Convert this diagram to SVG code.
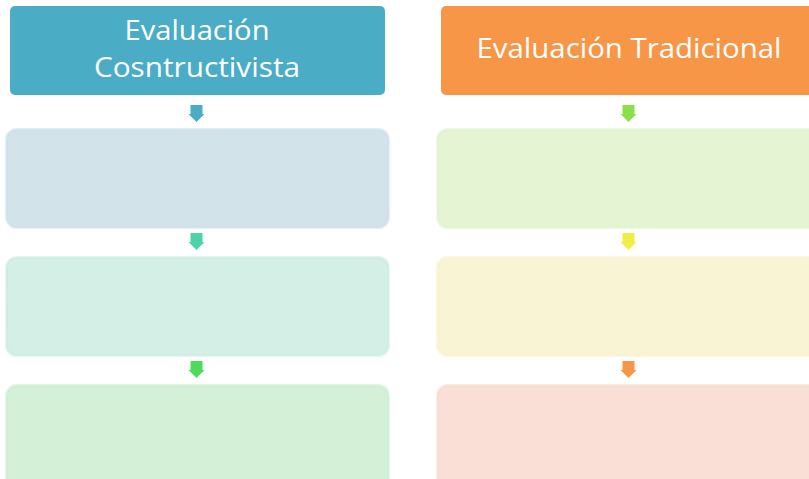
<svg xmlns="http://www.w3.org/2000/svg" width="809" height="479" viewBox="0 0 809 479">
<defs>
<style>
.hdr{font-family:"Open Sans","Liberation Sans",sans-serif;font-size:27px;fill:#ffffff;text-anchor:middle}
.box{stroke-width:3;stroke-opacity:0.5}
</style>
<path id="arr" d="M-6,0 H6 V9 H8 L0,17 L-8,9 H-6 Z"/>
</defs>
<rect width="809" height="479" fill="#ffffff"/>
<g id="hdr-left">
<rect x="10" y="6" width="375" height="89" rx="5" fill="#4BACC6"/>
<text class="hdr" x="197" y="40" textLength="145" lengthAdjust="spacingAndGlyphs">Evaluación</text>
<text class="hdr" x="197" y="77" textLength="206" lengthAdjust="spacingAndGlyphs">Cosntructivista</text>
</g>
<g id="hdr-right">
<rect x="441" y="6" width="380" height="89" rx="5" fill="#F79646"/>
<text class="hdr" x="629" y="58" textLength="305" lengthAdjust="spacingAndGlyphs">Evaluación Tradicional</text>
</g>
<g id="left-1"><rect class="box" x="6.5" y="129.5" width="382" height="98" rx="10" fill="#D3E3EA" stroke="#C8DCE6"/></g>
<g id="left-2"><rect class="box" x="6.5" y="257.5" width="382" height="98" rx="10" fill="#D4EFE5" stroke="#C6EADD"/></g>
<g id="left-3"><rect class="box" x="6.5" y="385.5" width="382" height="110" rx="10" fill="#D4F0D7" stroke="#C8EBCB"/></g>
<g id="right-1"><rect class="box" x="437.5" y="129.5" width="390" height="98" rx="10" fill="#E5F5D3" stroke="#DCF2C8"/></g>
<g id="right-2"><rect class="box" x="437.5" y="257.5" width="390" height="98" rx="10" fill="#F8F4D4" stroke="#F6F1C9"/></g>
<g id="right-3"><rect class="box" x="437.5" y="385.5" width="390" height="110" rx="10" fill="#F9DFD5" stroke="#F8D8CC"/></g>
<g id="connectors">
<use href="#arr" x="196.5" y="105" fill="#4BACC6"/>
<use href="#arr" x="196.5" y="233" fill="#4CD3A8"/>
<use href="#arr" x="196.5" y="361" fill="#4CDC5C"/>
<use href="#arr" x="628.5" y="105" fill="#8BE04A"/>
<use href="#arr" x="628.5" y="233" fill="#EEEF46"/>
<use href="#arr" x="628.5" y="361" fill="#F79646"/>
</g>
</svg>
